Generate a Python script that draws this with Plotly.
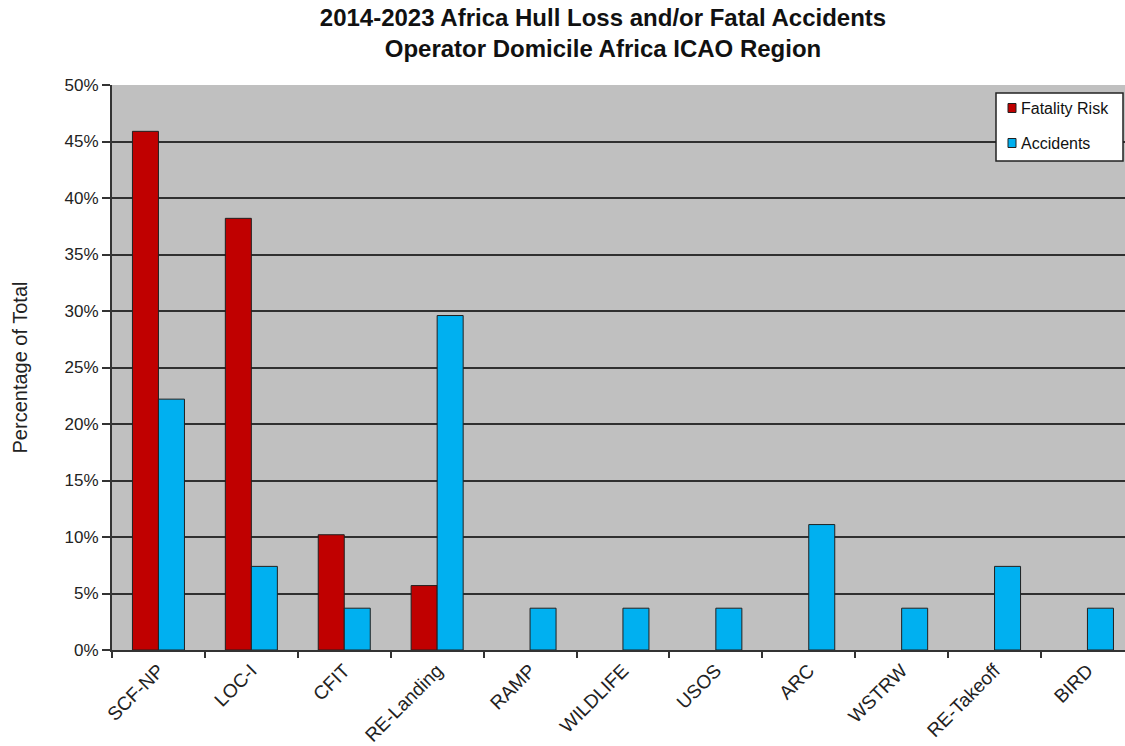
import plotly.graph_objects as go

categories = ["SCF-NP", "LOC-I", "CFIT", "RE-Landing", "RAMP", "WILDLIFE",
              "USOS", "ARC", "WSTRW", "RE-Takeoff", "BIRD"]
fatality_risk = [45.9, 38.2, 10.2, 5.7, None, None, None, None, None, None, None]
accidents = [22.2, 7.4, 3.7, 29.6, 3.7, 3.7, 3.7, 11.1, 3.7, 7.4, 3.7]
y_ticks = [0, 5, 10, 15, 20, 25, 30, 35, 40, 45, 50]
series_names = ["Fatality Risk", "Accidents"]
series_colors = ["#C00000", "#00B0F0"]

FONT = "Liberation Sans, Arial, sans-serif"

fig = go.Figure()
for name, vals, col in zip(series_names, [fatality_risk, accidents], series_colors):
    fig.add_trace(go.Bar(name=name, x=categories, y=vals,
                         marker=dict(color=col, line=dict(color="#202020", width=1)),
                         showlegend=False))

W, H = 1125, 746
L, T, B, R = 112, 85, 96, 0
pw = W - L - R
ph = H - T - B
cat_w = 92.9
# right part of the last category is cut off by the picture edge
xmax = -0.5 + pw / cat_w


def px_x(v):
    return (v - L) / pw


def px_y(v):
    return (H - B - v) / ph


# custom legend (box, swatches, labels)
shapes = [dict(type="rect", xref="paper", yref="paper",
               x0=px_x(996), x1=px_x(1123), y0=px_y(161), y1=px_y(93),
               fillcolor="white", line=dict(color="#222222", width=1.5), layer="above")]
annotations = []
for i, (name, col) in enumerate(zip(series_names, series_colors)):
    cy = 108 + 35 * i
    shapes.append(dict(type="rect", xref="paper", yref="paper",
                       x0=px_x(1008), x1=px_x(1016), y0=px_y(cy + 4.5), y1=px_y(cy - 4.5),
                       fillcolor=col, line=dict(color="#202020", width=1), layer="above"))
    annotations.append(dict(text=name, xref="paper", yref="paper",
                            x=px_x(1019), y=px_y(cy), xanchor="left", yanchor="middle",
                            showarrow=False,
                            font=dict(family=FONT, size=16, color="#111111")))

fig.update_layout(
    width=W, height=H,
    margin=dict(l=L, r=R, t=T, b=B, pad=0),
    paper_bgcolor="white",
    plot_bgcolor="#C0C0C0",
    barmode="group",
    bargap=0.44,
    bargroupgap=0,
    font=dict(family=FONT, color="#222222"),
    title=dict(
        text="<b>2014-2023 Africa Hull Loss and/or Fatal Accidents<br>Operator Domicile Africa ICAO Region</b>",
        x=603 / W, xanchor="center", xref="container",
        y=1 - 26 / H, yanchor="middle", yref="container",
        font=dict(family=FONT, size=24, color="#111111"),
    ),
    shapes=shapes,
    annotations=annotations,
    showlegend=False,
)

fig.update_xaxes(
    range=[-0.5, xmax],
    tickangle=-45,
    tickson="boundaries",
    ticks="outside", ticklen=6, tickcolor="#333333", tickwidth=1.5,
    showline=True, linecolor="#333333", linewidth=2,
    showgrid=False,
    tickfont=dict(family=FONT, size=19, color="#222222"),
)
fig.update_yaxes(
    range=[0, 50],
    tickvals=y_ticks,
    ticktext=[f"{v}%" for v in y_ticks],
    ticks="outside", ticklen=8, tickcolor="#333333", tickwidth=1.5,
    showline=True, linecolor="#333333", linewidth=2,
    showgrid=True, gridcolor="#303030", gridwidth=1.6,
    zeroline=False,
    tickfont=dict(family=FONT, size=17, color="#222222"),
    title=dict(text="Percentage of Total", standoff=32,
               font=dict(family=FONT, size=20, color="#222222")),
)

fig.write_html("out.html")
